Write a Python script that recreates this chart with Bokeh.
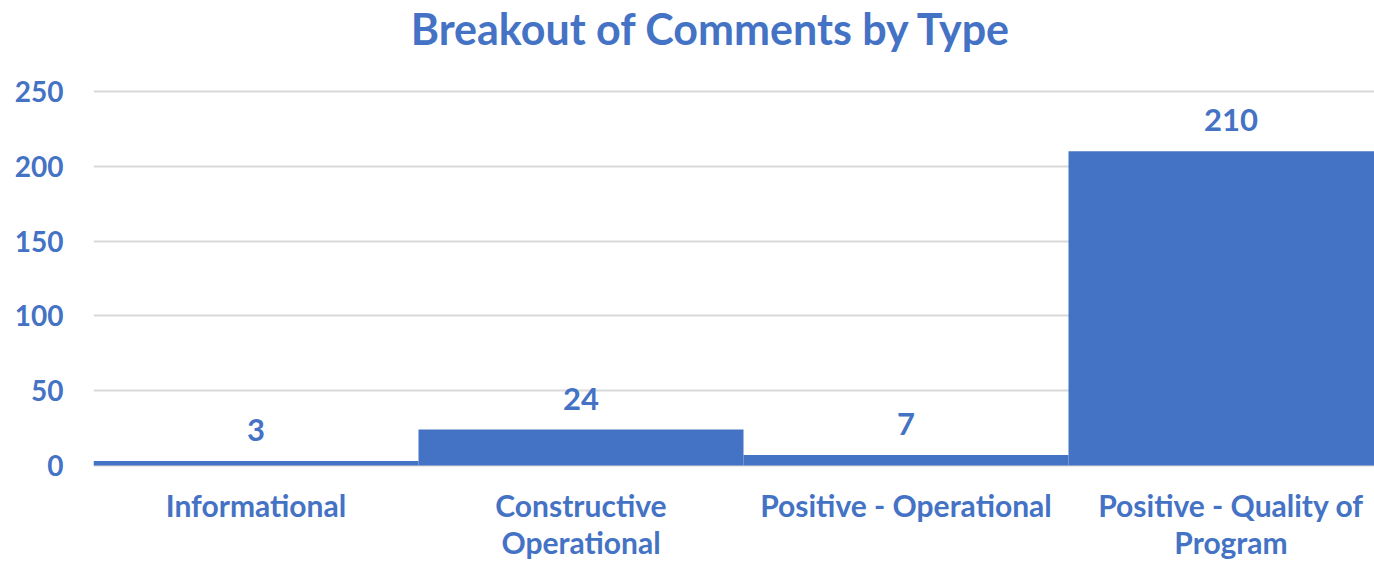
from bokeh.plotting import figure
from bokeh.models import Range1d, FixedTicker, ColumnDataSource, LabelSet
from bokeh.core.properties import value
from bokeh.embed import file_html
from bokeh.resources import INLINE

categories = ["Informational", "Constructive Operational", "Positive - Operational", "Positive - Quality of Program"]
line1 = ["Informational", "Constructive", "Positive - Operational", "Positive - Quality of"]
line2 = ["", "Operational", "", "Program"]
values = [3, 24, 7, 210]
y_ticks = [0, 50, 100, 150, 200, 250]
title_text = "Breakout of Comments by Type"

BLUE = "#4472C4"
GRID = "#d9d9d9"
FONT = "Lato"

# layout (pixels)
W, H = 1374, 561
FRAME_LEFT = 93
Y0_PX, Y250_PX = 465, 91
CAT_PX = 325
TITLE_CENTER_PX = 711

ppu = (Y0_PX - Y250_PX) / 250.0
y_start = -(H - Y0_PX) / ppu
y_end = 250 + Y250_PX / ppu
x_end = (W - FRAME_LEFT) / CAT_PX

xs = [i + 0.5 for i in range(len(categories))]
src = ColumnDataSource(dict(x=xs, top=values, lab=[str(v) for v in values],
                            zero=[0] * len(xs), l1=line1, l2=line2))

p = figure(width=W, height=H, output_backend="svg", toolbar_location=None,
           x_range=Range1d(0, x_end), y_range=Range1d(y_start, y_end),
           x_axis_location=None,
           min_border_left=FRAME_LEFT, min_border_right=0, min_border_top=0, min_border_bottom=0)
p.outline_line_color = None

p.vbar(x="x", top="top", bottom=0, width=1.0, source=src, fill_color=BLUE, line_color=None)

# value labels
p.add_layout(LabelSet(x="x", y="top", text="lab", source=src, text_align="center",
                      text_baseline="alphabetic", y_offset=20, text_color=BLUE,
                      text_font=value(FONT), text_font_style="bold", text_font_size="31px"))

# category labels (two lines)
for col, off in (("l1", -51), ("l2", -88)):
    p.add_layout(LabelSet(x="x", y="zero", text=col, source=src, text_align="center",
                          text_baseline="alphabetic", y_offset=off, text_color=BLUE,
                          text_font=value(FONT), text_font_style="bold", text_font_size="30px"))

# title
tsrc = ColumnDataSource(dict(x=[(TITLE_CENTER_PX - FRAME_LEFT) / CAT_PX], y=[250], t=[title_text]))
p.add_layout(LabelSet(x="x", y="y", text="t", source=tsrc, text_align="center",
                      text_baseline="alphabetic", y_offset=47, text_color=BLUE,
                      text_font=value(FONT), text_font_style="bold", text_font_size="43px"))

p.yaxis.ticker = FixedTicker(ticks=y_ticks)
p.yaxis.axis_line_color = None
p.yaxis.major_tick_line_color = None
p.yaxis.major_tick_out = 0
p.yaxis.major_tick_in = 0
p.yaxis.minor_tick_line_color = None
p.yaxis.major_label_standoff = 30
p.yaxis.major_label_text_font = FONT
p.yaxis.major_label_text_font_style = "bold"
p.yaxis.major_label_text_font_size = "28px"
p.yaxis.major_label_text_color = BLUE

p.xgrid.grid_line_color = None
p.ygrid.ticker = FixedTicker(ticks=y_ticks)
p.ygrid.grid_line_color = GRID
p.ygrid.grid_line_width = 2

open("out.html", "w").write(file_html(p, INLINE))
